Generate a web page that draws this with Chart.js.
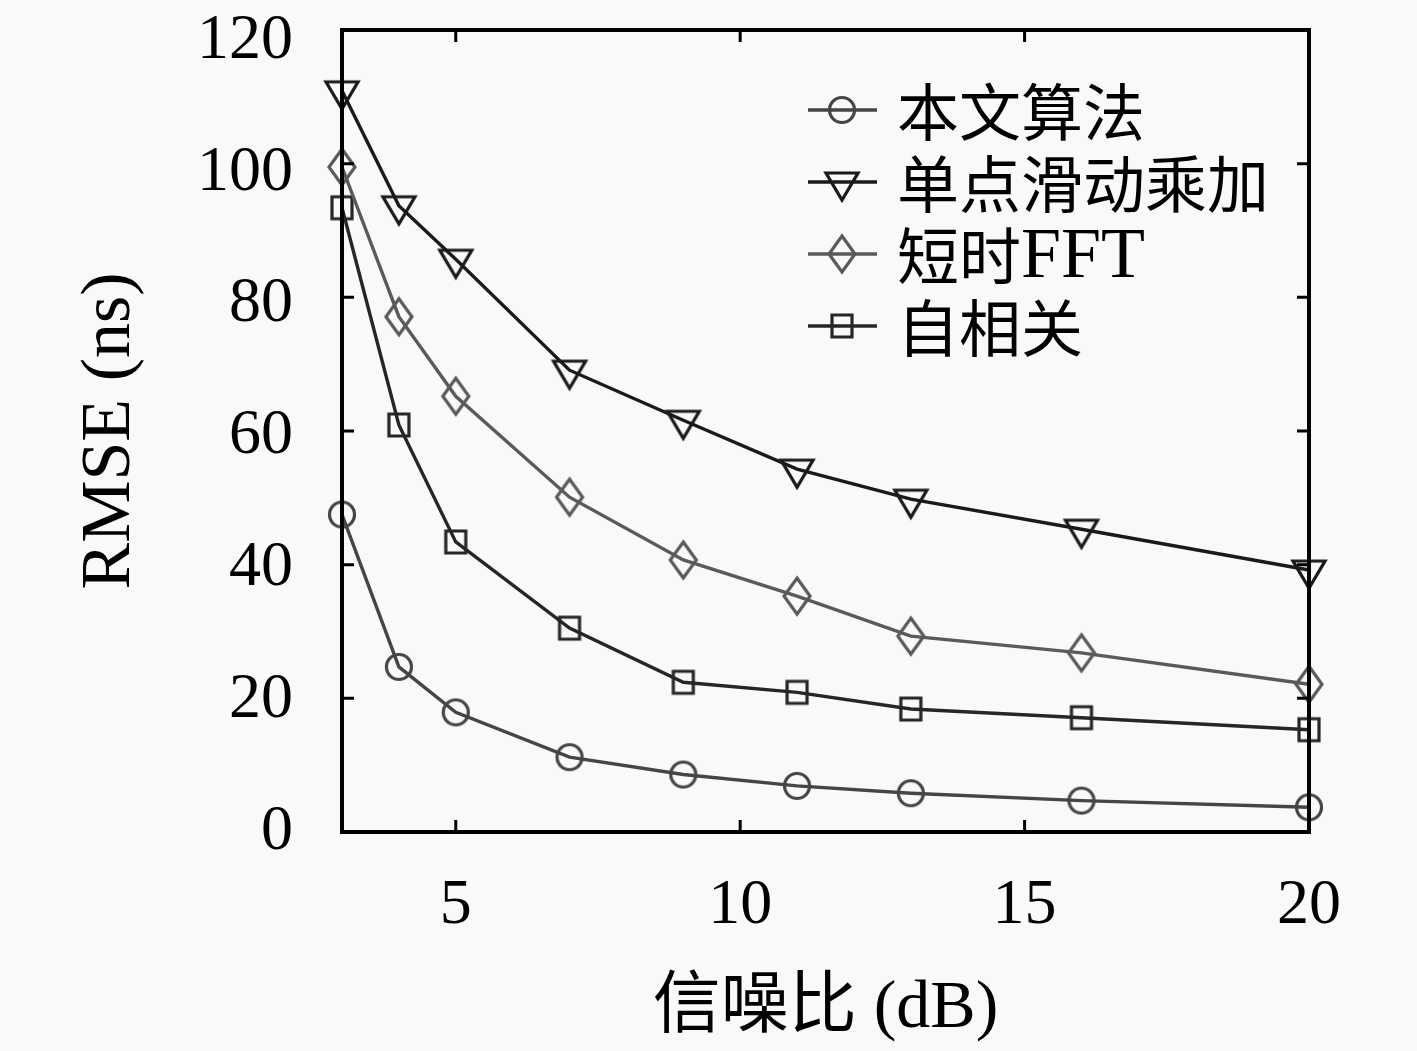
<!DOCTYPE html>
<html>
<head>
<meta charset="utf-8">
<script src="https://cdn.jsdelivr.net/npm/chart.js@4.4.1/dist/chart.umd.min.js"></script>
<style>
  html, body { margin: 0; padding: 0; background: #f9f9f9; }
  #chart { display: block; }
</style>
</head>
<body>
<canvas id="chart" width="1417" height="1051"></canvas>
<script>
// données
var snr = [3, 4, 5, 7, 9, 11, 13, 16, 20];
var proposed = [47.5, 24.7, 17.9, 11.2, 8.6, 6.9, 5.8, 4.7, 3.7];
var singlePoint = [110.9, 93.7, 85.7, 69.1, 61.6, 54.3, 49.8, 45.3, 39.2];
var shortFFT = [99.5, 77.1, 65.2, 50.1, 40.7, 35.3, 29.3, 26.8, 22.1];
var autoCorr = [93.4, 60.9, 43.4, 30.5, 22.4, 20.9, 18.4, 17.1, 15.3];
var seriesNames = ['本文算法', '单点滑动乘加', '短时FFT', '自相关'];
var xTicks = [5, 10, 15, 20];
var yTicks = [0, 20, 40, 60, 80, 100, 120];

var serif = '"Liberation Serif", "Noto Sans CJK SC", serif';

// marqueurs creux dessinés sur un petit canvas
function makeMarker(kind, color) {
    var c = document.createElement('canvas');
    var s = 44, m = s / 2;
    c.width = s; c.height = s;
    var g = c.getContext('2d');
    g.strokeStyle = color;
    g.lineWidth = 3.2;
    g.beginPath();
    if (kind === 'circle') {
        g.arc(m, m, 12.5, 0, Math.PI * 2);
    } else if (kind === 'triangle') {
        g.moveTo(m - 16, m - 9);
        g.lineTo(m + 16, m - 9);
        g.lineTo(m, m + 18);
    } else if (kind === 'diamond') {
        g.moveTo(m, m - 18);
        g.lineTo(m + 13, m);
        g.lineTo(m, m + 18);
        g.lineTo(m - 13, m);
    } else {
        g.rect(m - 10, m - 11, 20, 22);
    }
    g.closePath();
    g.stroke();
    return c;
}

var colors = ['#454545', '#1a1a1a', '#5a5a5a', '#262626'];
var markers = [
    makeMarker('circle', colors[0]),
    makeMarker('triangle', colors[1]),
    makeMarker('diamond', colors[2]),
    makeMarker('square', colors[3])
];
var allSeries = [proposed, singlePoint, shortFFT, autoCorr];

function toPoints(values) {
    return snr.map(function(x, i) { return { x: x, y: values[i] }; });
}

var datasets = allSeries.map(function(values, i) {
    return {
        label: seriesNames[i],
        data: toPoints(values),
        borderColor: colors[i],
        borderWidth: 3.4,
        pointStyle: markers[i],
        pointRadius: 5,
        tension: 0,
        fill: false,
        clip: false
    };
});

// cadre + graduations vers l'intérieur + libellés de l'axe y
var framePlugin = {
    id: 'frame',
    afterDatasetsDraw: function(chart) {
        var ctx = chart.ctx, a = chart.chartArea;
        var xs = chart.scales.x, ys = chart.scales.y;
        var tl = 12;
        ctx.save();
        ctx.strokeStyle = '#000';
        ctx.lineWidth = 3;
        ctx.beginPath();
        yTicks.forEach(function(v) {
            if (v === 0 || v === 120) return;
            var py = ys.getPixelForValue(v);
            ctx.moveTo(a.left, py); ctx.lineTo(a.left + tl, py);
            ctx.moveTo(a.right, py); ctx.lineTo(a.right - tl, py);
        });
        xTicks.forEach(function(v) {
            if (v === 20) return;
            var px = xs.getPixelForValue(v);
            ctx.moveTo(px, a.bottom); ctx.lineTo(px, a.bottom - tl);
            ctx.moveTo(px, a.top); ctx.lineTo(px, a.top + tl);
        });
        ctx.stroke();
        ctx.lineWidth = 4;
        ctx.strokeRect(a.left, a.top, a.right - a.left, a.bottom - a.top);

        // les chiffres de l'original sont un peu tassés vers le bas
        ctx.fillStyle = '#000';
        ctx.font = '64px ' + serif;
        ctx.textAlign = 'right';
        ctx.textBaseline = 'middle';
        yTicks.forEach(function(v) {
            var py = ys.getPixelForValue(v) + v / 120 * 11;
            ctx.fillText(String(v), a.left - 49, py);
        });
        ctx.restore();
    }
};

// texte mixte : chinois en sans, latin en serif un peu plus grand
function drawMixed(ctx, text, x, y) {
    var runs = text.match(/[\u4e00-\u9fff]+|[^\u4e00-\u9fff]+/g);
    runs.forEach(function(run) {
        var cjk = /[\u4e00-\u9fff]/.test(run);
        ctx.font = cjk ? '62px "Noto Sans CJK SC"' : '72px "Liberation Serif"';
        ctx.fillText(run, x, cjk ? y + 2 : y + 4);
        x += ctx.measureText(run).width;
    });
}

// légende dans le coin supérieur droit
var legendPlugin = {
    id: 'innerLegend',
    afterDraw: function(chart) {
        var ctx = chart.ctx, a = chart.chartArea;
        var x0 = 808, x1 = 877, mx = 842, tx = 897;
        ctx.save();
        ctx.textBaseline = 'middle';
        ctx.textAlign = 'left';
        seriesNames.forEach(function(name, i) {
            var y = a.top + 80 + i * 72;
            ctx.strokeStyle = colors[i];
            ctx.lineWidth = 3.4;
            ctx.beginPath();
            ctx.moveTo(x0, y); ctx.lineTo(x1, y);
            ctx.stroke();
            ctx.drawImage(markers[i], mx - markers[i].width / 2, y - markers[i].height / 2);
            ctx.fillStyle = '#000';
            drawMixed(ctx, name, tx, y);
        });
        ctx.restore();
    }
};

var ctx = document.getElementById('chart').getContext('2d');
var rmseChart = new Chart(ctx, {
    type: 'line',
    data: { datasets: datasets },
    plugins: [framePlugin, legendPlugin],
    options: {
        responsive: false,
        animation: false,
        events: [],
        layout: { padding: { left: 0, right: 108, top: 30, bottom: 0 } },
        plugins: {
            legend: { display: false },
            tooltip: { enabled: false }
        },
        scales: {
            x: {
                type: 'linear',
                min: 3,
                max: 20,
                afterBuildTicks: function(scale) {
                    scale.ticks = xTicks.map(function(v) { return { value: v }; });
                },
                afterFit: function(scale) {
                    scale.height = 219;
                    scale.paddingLeft = 0;
                    scale.paddingRight = 0;
                },
                grid: { display: false },
                border: { display: false },
                ticks: {
                    color: '#000',
                    padding: 28,
                    maxRotation: 0,
                    font: { family: serif, size: 64 }
                },
                title: {
                    display: true,
                    text: '信噪比 (dB)',
                    color: '#000',
                    padding: { top: 0, bottom: 1 },
                    font: { family: serif, size: 68 }
                }
            },
            y: {
                min: 0,
                max: 120,
                afterBuildTicks: function(scale) {
                    scale.ticks = yTicks.map(function(v) { return { value: v }; });
                },
                afterFit: function(scale) {
                    scale.width = 342;
                    scale.paddingTop = 0;
                    scale.paddingBottom = 0;
                },
                grid: { display: false },
                border: { display: false },
                ticks: { display: false },
                title: {
                    display: true,
                    text: 'RMSE (ns)',
                    color: '#000',
                    padding: { top: 69, bottom: 0 },
                    font: { family: serif, size: 70 }
                }
            }
        }
    }
});
</script>
</body>
</html>
